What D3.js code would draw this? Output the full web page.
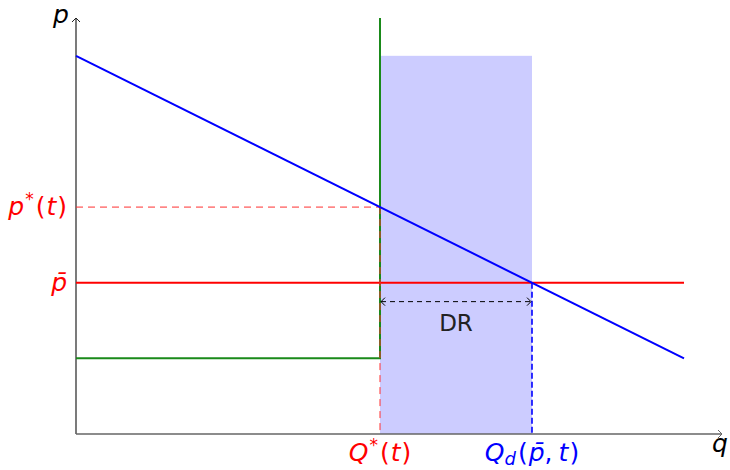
<!DOCTYPE html>
<html>
<head>
<meta charset="utf-8">
<script src="https://cdn.jsdelivr.net/npm/d3@7"></script>
<style>
  html, body { margin: 0; padding: 0; background: #fff; }
  svg text { font-family: "DejaVu Sans", sans-serif; }
</style>
</head>
<body>
<svg id="chart" width="730" height="470"></svg>
<script>
// Model parameters (q = quantity, p = price)
const demandPoints = [{q: 0, p: 5}, {q: 8, p: 1}];      // downward sloping demand
const supplyPoints = [{q: 0, p: 1}, {q: 4, p: 1}, {q: 4, p: 5.5}]; // capacity-constrained supply
const priceCap = 2;        // p̄
const priceStar = 3;       // p*(t)
const qStar = 4;           // Q*(t)
const qDemand = 6;         // Q_d(p̄, t)
const shadeTop = 5;
const drLevel = 1.75;
const drLabelLevel = 1.47;
const axisMax = {q: 8.5, p: 5.5};
const lineEnd = 8;

const svg = d3.select("#chart");
const x = d3.scaleLinear().domain([0, axisMax.q]).range([76, 722]);
const y = d3.scaleLinear().domain([0, axisMax.p]).range([434, 18]);

const defs = svg.append("defs");
function arrowMarker(id, color) {
  defs.append("marker")
    .attr("id", id).attr("viewBox", "-6 -5 8 10")
    .attr("refX", 0).attr("refY", 0)
    .attr("markerWidth", 8).attr("markerHeight", 10)
    .attr("markerUnits", "userSpaceOnUse")
    .attr("orient", "auto-start-reverse")
    .append("path").attr("d", "M-4,-4 L0,0 L-4,4")
    .attr("fill", "none").attr("stroke", color).attr("stroke-width", 1);
}
arrowMarker("axArrowY", "#222");
arrowMarker("axArrowX", "#666");
arrowMarker("drArrow", "#000");

// Shaded demand-response region
svg.append("rect")
  .attr("x", x(qStar)).attr("y", y(shadeTop))
  .attr("width", x(qDemand) - x(qStar))
  .attr("height", y(0) - y(shadeTop))
  .attr("fill", "#ccccff");

// Axes
svg.append("line")
  .attr("x1", x(0)).attr("y1", y(0)).attr("x2", x(0)).attr("y2", y(axisMax.p))
  .attr("stroke", "#222").attr("stroke-width", 1.2)
  .attr("marker-end", "url(#axArrowY)");
svg.append("line")
  .attr("x1", x(0)).attr("y1", y(0)).attr("x2", x(axisMax.q)).attr("y2", y(0))
  .attr("stroke", "#666").attr("stroke-width", 1.6)
  .attr("marker-end", "url(#axArrowX)");

const line = d3.line().x(d => x(d.q)).y(d => y(d.p));

// Supply curve
svg.append("path").datum(supplyPoints).attr("d", line)
  .attr("fill", "none").attr("stroke", "#1a8a1a").attr("stroke-width", 2);

// Price cap line
svg.append("line")
  .attr("x1", x(0)).attr("y1", y(priceCap)).attr("x2", x(lineEnd)).attr("y2", y(priceCap))
  .attr("stroke", "#ff0000").attr("stroke-width", 2);

// Dashed guides for the equilibrium point
svg.append("line")
  .attr("x1", x(0)).attr("y1", y(priceStar)).attr("x2", x(qStar)).attr("y2", y(priceStar))
  .attr("stroke", "#ff3030").attr("stroke-width", 1).attr("stroke-dasharray", "7,5");
svg.append("line")
  .attr("x1", x(qStar)).attr("y1", y(priceStar)).attr("x2", x(qStar)).attr("y2", y(0))
  .attr("stroke", "#ff3030").attr("stroke-width", 1).attr("stroke-dasharray", "7,5");

// Dashed guide for demand at the capped price
svg.append("line")
  .attr("x1", x(qDemand)).attr("y1", y(priceCap)).attr("x2", x(qDemand)).attr("y2", y(0))
  .attr("stroke", "#0000ff").attr("stroke-width", 1.6).attr("stroke-dasharray", "6,3");

// Demand curve
svg.append("path").datum(demandPoints).attr("d", line)
  .attr("fill", "none").attr("stroke", "#0000ff").attr("stroke-width", 2);

// DR span arrow
svg.append("line")
  .attr("x1", x(qStar) + 1).attr("y1", y(drLevel)).attr("x2", x(qDemand) - 1).attr("y2", y(drLevel))
  .attr("stroke", "#000").attr("stroke-width", 1).attr("stroke-dasharray", "5,4")
  .attr("marker-start", "url(#drArrow)").attr("marker-end", "url(#drArrow)");
svg.append("text")
  .attr("x", x((qStar + qDemand) / 2)).attr("y", y(drLabelLevel))
  .attr("text-anchor", "middle").attr("dominant-baseline", "central")
  .attr("font-size", 23).attr("fill", "#222").text("DR");

// Axis titles
svg.append("text").attr("x", 61).attr("y", 23).attr("text-anchor", "middle")
  .attr("font-size", 25).attr("font-style", "italic").text("p");
svg.append("text").attr("x", 720).attr("y", 452).attr("text-anchor", "middle")
  .attr("font-size", 25).attr("font-style", "italic").text("q");

// p*(t)
const pStarLabel = svg.append("text")
  .attr("x", 67).attr("y", y(priceStar) + 8).attr("text-anchor", "end")
  .attr("font-size", 25).attr("fill", "#ff0000");
pStarLabel.append("tspan").attr("font-style", "italic").text("p");
pStarLabel.append("tspan").attr("font-size", 17).attr("dy", -10).attr("dx", 1).text("*");
pStarLabel.append("tspan").attr("dy", 10).attr("dx", 2).text("(");
pStarLabel.append("tspan").attr("font-style", "italic").attr("dx", 1).text("t");
pStarLabel.append("tspan").attr("dx", 1).text(")");

// p̄
svg.append("text")
  .attr("x", 67).attr("y", y(priceCap) + 8).attr("text-anchor", "end")
  .attr("font-size", 25).attr("fill", "#ff0000").attr("font-style", "italic")
  .text("p\u0304");

// Q*(t)
const qStarLabel = svg.append("text")
  .attr("x", x(qStar)).attr("y", 461).attr("text-anchor", "middle")
  .attr("font-size", 25).attr("fill", "#ff0000");
qStarLabel.append("tspan").attr("font-style", "italic").text("Q");
qStarLabel.append("tspan").attr("font-size", 17).attr("dy", -10).attr("dx", 1).text("*");
qStarLabel.append("tspan").attr("dy", 10).attr("dx", 2).text("(");
qStarLabel.append("tspan").attr("font-style", "italic").attr("dx", 1).text("t");
qStarLabel.append("tspan").attr("dx", 1).text(")");

// Q_d(p̄, t)
const qdLabel = svg.append("text")
  .attr("x", x(qDemand)).attr("y", 461).attr("text-anchor", "middle")
  .attr("font-size", 25).attr("fill", "#0000ff");
qdLabel.append("tspan").attr("font-style", "italic").text("Q");
qdLabel.append("tspan").attr("font-style", "italic").attr("font-size", 18).attr("dy", 4).text("d");
qdLabel.append("tspan").attr("dy", -4).attr("dx", 2).text("(");
qdLabel.append("tspan").attr("font-style", "italic").attr("dx", 1).text("p\u0304");
qdLabel.append("tspan").text(",");
qdLabel.append("tspan").attr("font-style", "italic").attr("dx", 6).text("t");
qdLabel.append("tspan").attr("dx", 1).text(")");
</script>
</body>
</html>
